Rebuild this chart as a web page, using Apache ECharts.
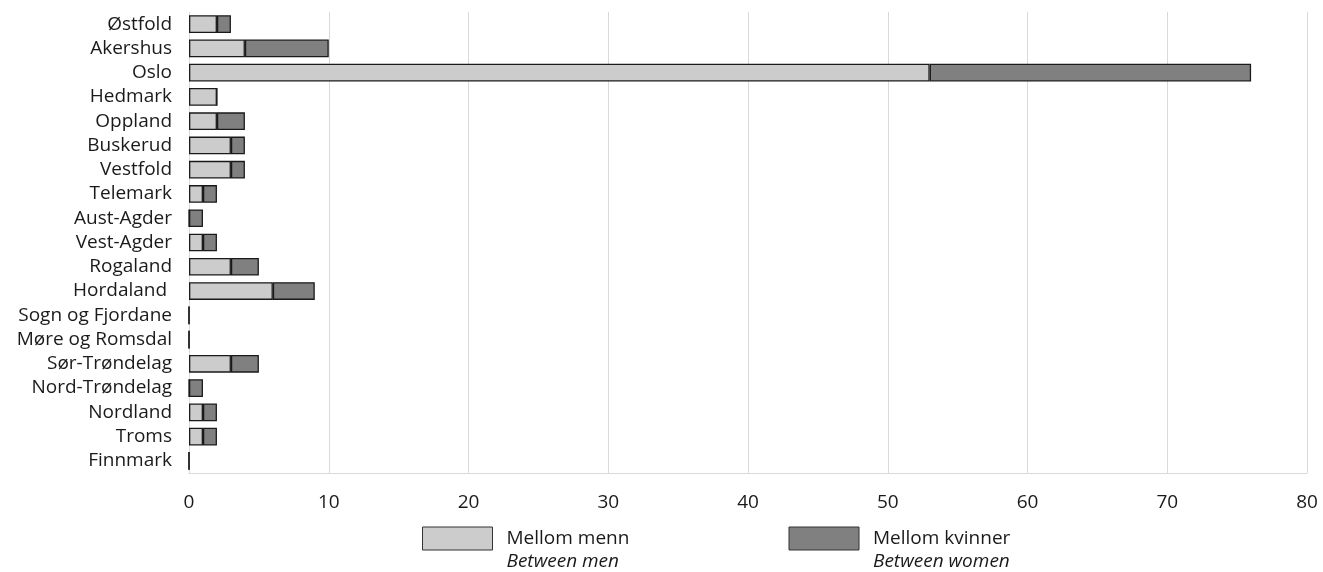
<!DOCTYPE html>
<html><head><meta charset="utf-8">
<script src="https://cdn.jsdelivr.net/npm/echarts@6/dist/echarts.min.js"></script>
<style>html,body{margin:0;padding:0;background:#fff}#c{width:1323px;height:572px}</style>
</head><body><div id="c"></div>
<script>
const categories = ["Østfold","Akershus","Oslo","Hedmark","Oppland","Buskerud","Vestfold","Telemark","Aust-Agder","Vest-Agder","Rogaland","Hordaland ","Sogn og Fjordane","Møre og Romsdal","Sør-Trøndelag","Nord-Trøndelag","Nordland","Troms","Finnmark"];
const betweenMen   = [2,4,53,2,2,3,3,1,0,1,3,6,0,0,3,0,1,1,0];
const betweenWomen = [1,6,23,0,2,1,1,1,1,1,2,3,0,0,2,1,1,1,0];
const seriesNames = ["Mellom menn","Mellom kvinner"];
const seriesNamesEn = {"Mellom menn":"Between men","Mellom kvinner":"Between women"};
const xTicks = {min:0,max:80,interval:10};

const font = "'Open Sans', sans-serif";
const fs = 19;
const chart = echarts.init(document.getElementById('c'));
chart.setOption({
  animation:false,
  textStyle:{fontFamily:font},
  grid:{left:189,right:16,top:12,bottom:99,containLabel:false},
  xAxis:{type:'value',min:xTicks.min,max:xTicks.max,interval:xTicks.interval,
    axisLine:{show:true,lineStyle:{color:'#d9d9d9',width:1}},
    axisTick:{show:false},
    splitLine:{show:true,lineStyle:{color:'#d9d9d9',width:1}},
    axisLabel:{color:'#1a1a1a',fontSize:fs,margin:20,fontFamily:font}},
  yAxis:{type:'category',data:categories,inverse:true,
    axisLine:{show:false},axisTick:{show:false},
    axisLabel:{interval:0,color:'#1a1a1a',fontSize:fs,margin:17,fontFamily:font}},
  legend:{left:422,top:506,padding:0,itemWidth:70,itemHeight:23,itemGap:0,
    icon:'rect',
    data:seriesNames,
    formatter:function(n){return '{e| }\n{a|'+n+'}\n{b|'+seriesNamesEn[n]+'}';},
    textStyle:{padding:[0,0,0,9],rich:{
      e:{fontSize:fs,lineHeight:23,width:282,fontFamily:font},
      a:{fontSize:fs,lineHeight:23,width:282,color:'#1a1a1a',fontFamily:font},
      b:{fontSize:fs,lineHeight:23,width:282,color:'#1a1a1a',fontStyle:'italic',fontFamily:font}}},
    itemStyle:{borderColor:'#333333',borderWidth:1}},
  series:[
    {name:seriesNames[0],type:'bar',stack:'t',data:betweenMen,barCategoryGap:'27%',
      itemStyle:{color:'#cccccc',borderColor:'#1a1a1a',borderWidth:1.3}},
    {name:seriesNames[1],type:'bar',stack:'t',data:betweenWomen,barCategoryGap:'27%',
      itemStyle:{color:'#808080',borderColor:'#1a1a1a',borderWidth:1.3}}
  ]
});
</script></body></html>
